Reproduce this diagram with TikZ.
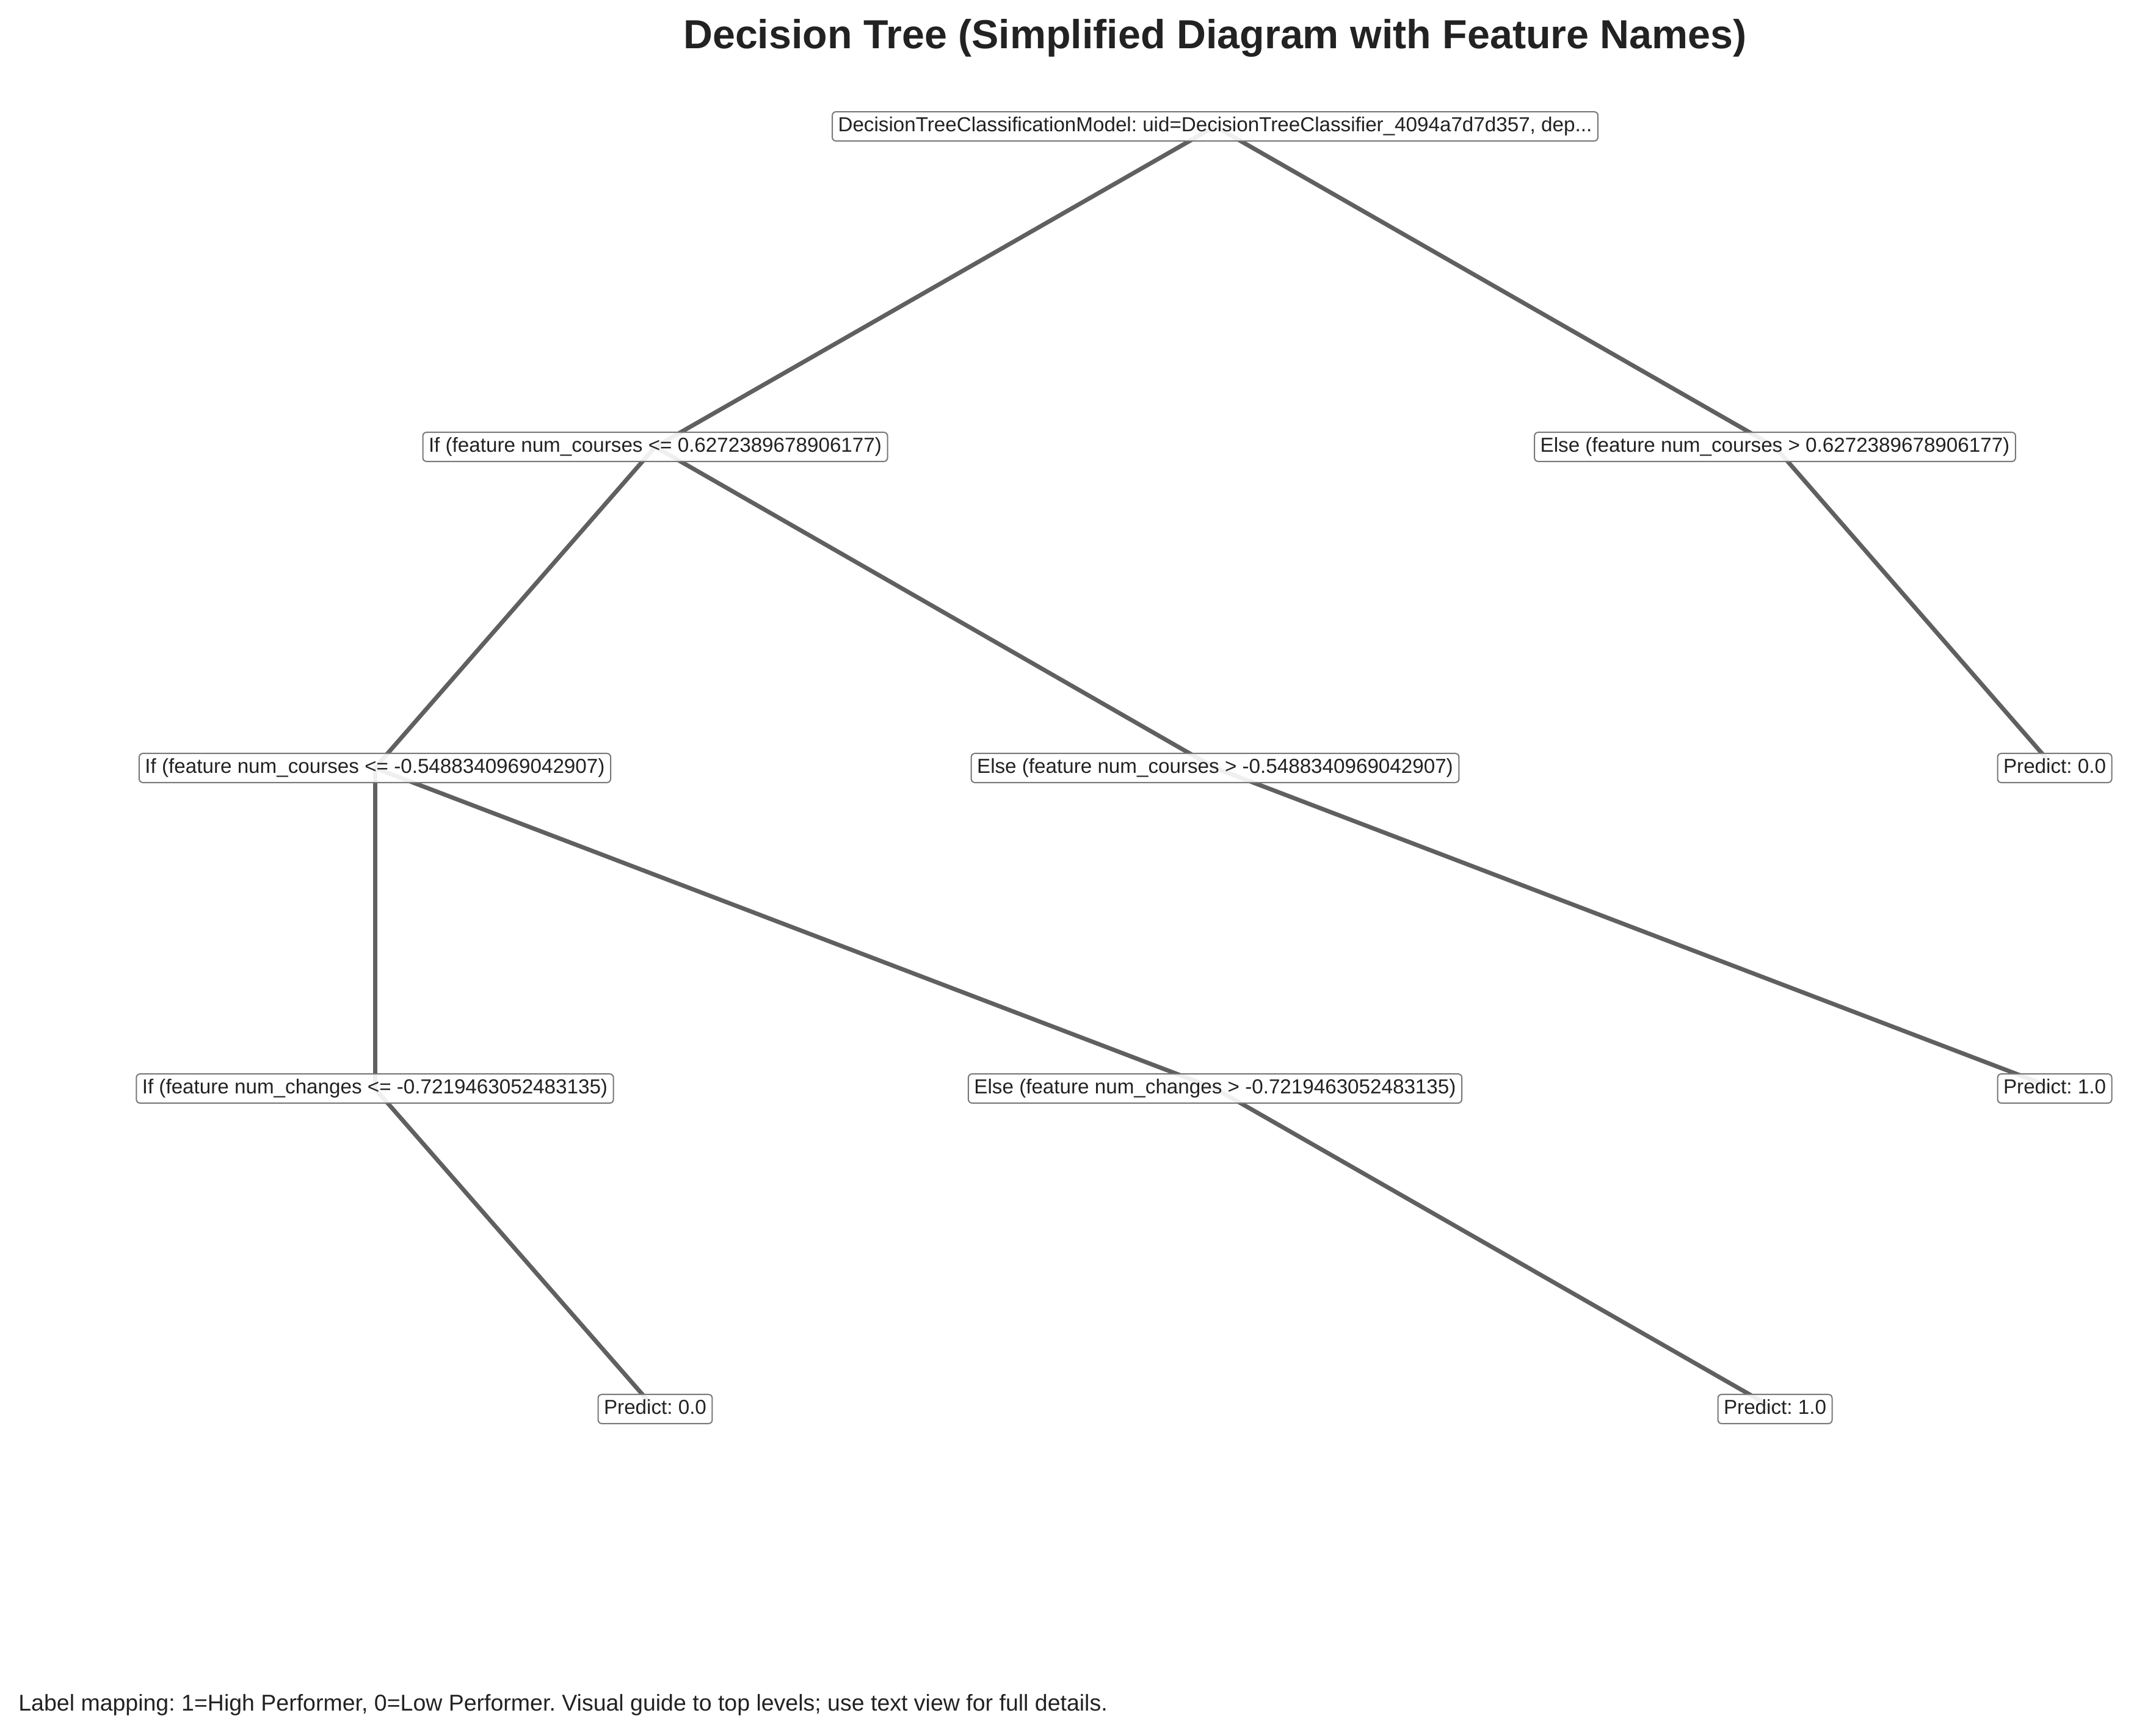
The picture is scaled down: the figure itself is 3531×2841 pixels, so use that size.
\documentclass[tikz,border=0pt]{standalone}
\usepackage{fontspec}
\setmainfont{Liberation Sans}[Ligatures=NoCommon]
\usetikzlibrary{backgrounds}
\definecolor{edgec}{HTML}{606060}
\definecolor{boxc}{HTML}{777777}
\definecolor{txt}{HTML}{222222}
\frenchspacing
\begin{document}
\begin{tikzpicture}[x=0.5pt,y=-0.5pt,
  tn/.style={draw=boxc, line width=1pt, rounded corners=3pt, fill=white,
    fill opacity=0.9, text opacity=1, text=txt,
    font=\fontsize{16.6pt}{20pt}\selectfont,
    inner xsep=4.75pt, inner ysep=0pt, text height=16pt, text depth=7.85pt},
  edge/.style={draw=edgec, line width=3.5pt}]
\useasboundingbox (0,0) rectangle (3531,2841);
\node[font=\bfseries\fontsize{33.2pt}{40pt}\selectfont, text=txt, anchor=base, inner sep=0pt] (title) at (1990,80) {Decision Tree (Simplified Diagram with Feature Names)};
\node[tn] (root) at (1990,207) {DecisionTreeClassificationModel: uid=DecisionTreeClassifier\_4094a7d7d357, dep...};
\node[tn] (a) at (1073,732) {If (feature num\_courses <= 0.6272389678906177)};
\node[tn] (b) at (2907,732) {Else (feature num\_courses > 0.6272389678906177)};
\node[tn] (aa) at (614,1258) {If (feature num\_courses <= -0.5488340969042907)};
\node[tn] (ab) at (1990,1258) {Else (feature num\_courses > -0.5488340969042907)};
\node[tn] (bp) at (3365,1258) {Predict: 0.0};
\node[tn] (aaa) at (614,1783) {If (feature num\_changes <= -0.7219463052483135)};
\node[tn] (aab) at (1990,1783) {Else (feature num\_changes > -0.7219463052483135)};
\node[tn] (abp) at (3365,1783) {Predict: 1.0};
\node[tn] (aaap) at (1073,2308) {Predict: 0.0};
\node[tn] (aabp) at (2907,2308) {Predict: 1.0};
\node[anchor=base west, inner sep=0pt, font=\fontsize{18.75pt}{22pt}\selectfont, text=txt] (foot) at (30,2802) {Label mapping: 1=High Performer, 0=Low Performer. Visual guide to top levels; use text view for full details.};
\begin{scope}[on background layer]
\draw[edge] (root.center) -- (a.center);
\draw[edge] (root.center) -- (b.center);
\draw[edge] (a.center) -- (aa.center);
\draw[edge] (a.center) -- (ab.center);
\draw[edge] (b.center) -- (bp.center);
\draw[edge] (aa.center) -- (aaa.center);
\draw[edge] (aa.center) -- (aab.center);
\draw[edge] (ab.center) -- (abp.center);
\draw[edge] (aaa.center) -- (aaap.center);
\draw[edge] (aab.center) -- (aabp.center);
\end{scope}
\end{tikzpicture}
\end{document}
